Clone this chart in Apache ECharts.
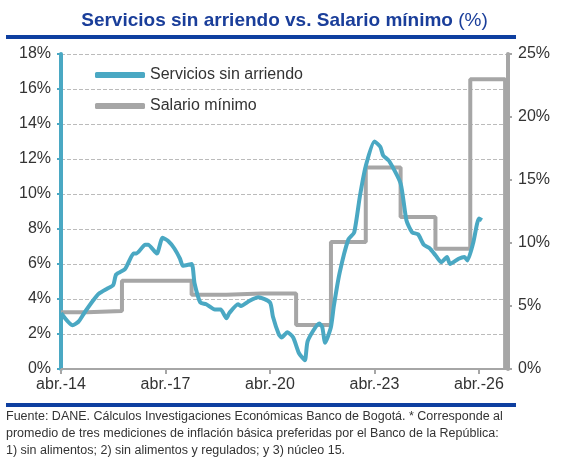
<!DOCTYPE html>
<html><head><meta charset="utf-8">
<script src="https://cdn.jsdelivr.net/npm/echarts@6/dist/echarts.min.js"></script>
<style>html,body{margin:0;padding:0;background:#fff}#c{width:569px;height:468px}</style>
</head><body><div id="c"></div>
<script>
// month index from abr.-14 (0) ; values in %
const servMonths = [0,4,6,8,11,13,16,18,19,22,23,25,26,29,30,33,35,37,39,41,42,45,46,48,50,53,55,57,58,61,62,65,68,72,73,75,76,78,80,82,84,85,89,90,91,93,94,96,99,101,103,105,108,110,111,113,117,119,121,123,125,127,129,131,133,134,137,139,140,142,144,145];
const servValues = [3.2,2.5,2.7,3.2,3.9,4.3,4.6,4.8,5.4,5.7,6.0,6.6,6.6,7.1,7.1,6.6,7.5,7.3,6.9,6.3,5.9,6.0,4.9,3.8,3.7,3.4,3.4,2.9,3.2,3.7,3.6,3.9,4.1,3.8,3.0,2.0,1.8,2.1,1.8,0.9,0.5,1.6,2.6,2.4,1.5,2.4,3.6,5.5,7.4,7.8,9.9,11.6,13.0,12.7,12.2,11.9,10.6,8.5,7.8,7.7,7.1,6.9,6.5,6.1,6.4,6.0,6.3,6.4,6.2,7.2,8.6,8.5];
const salMonths = [0,9,21,33,45,57,69,81,93,105,117,129,141,153,153];
const salValues = [4.5,4.6,7.0,7.0,5.9,6.0,6.0,3.5,10.07,16.0,12.07,9.54,23.0,23.0,0];
const xLabels = {0:'abr.-14',36:'abr.-17',72:'abr.-20',108:'abr.-23',144:'abr.-26'};
const leftTicks = [0,18,2];
const rightTicks = [0,25,5];

const teal = '#4aa8c3', gray = '#a6a6a6', blue = '#0e3fa0';
const zip = (a,b)=>a.map((m,i)=>[m,b[i]]);
const chart = echarts.init(document.getElementById('c'));
chart.setOption({
  animation:false,
  title:{text:'{b|Servicios sin arriendo vs. Salario mínimo }{n|(%)}',left:'center',top:6,
    textStyle:{fontWeight:'normal',rich:{b:{fontFamily:'Liberation Sans',fontWeight:'bold',fontSize:19,color:'#1a3e9a'},
                     n:{fontFamily:'Liberation Sans',fontWeight:'normal',fontSize:19,color:'#1a3e9a'}}}},
  graphic:[
    {type:'rect',shape:{x:6,y:35,width:510,height:4},style:{fill:blue}},
    {type:'rect',shape:{x:6,y:403,width:510,height:4},style:{fill:blue}},
    {type:'text',left:6,top:408,style:{text:'Fuente: DANE. Cálculos Investigaciones Económicas Banco de Bogotá. * Corresponde al\npromedio de tres mediciones de inflación básica preferidas por el Banco de la República:\n1) sin alimentos; 2) sin alimentos y regulados; y 3) núcleo 15.',
      font:'12.5px "Liberation Sans Narrow", "Liberation Sans", sans-serif',lineHeight:17,fill:'#333'}}
  ],
  legend:{orient:'vertical',left:90,top:62,itemWidth:50,itemHeight:6,itemGap:15,
    icon:'roundRect',textStyle:{fontSize:16,color:'#333',fontFamily:'Liberation Sans'},
    data:['Servicios sin arriendo','Salario mínimo']},
  grid:{left:61,right:61,top:54,bottom:99},
  xAxis:{type:'value',min:0,max:154,interval:36,
    axisLine:{lineStyle:{color:gray,width:2}},
    axisTick:{show:true,length:5,lineStyle:{color:gray,width:2}},
    splitLine:{show:false},
    axisLabel:{showMaxLabel:false,formatter:v=>xLabels[v]||'',fontSize:16,color:'#333',margin:8,fontFamily:'Liberation Sans'}},
  yAxis:[
    {type:'value',min:leftTicks[0],max:leftTicks[1],interval:leftTicks[2],
     axisLine:{show:true,lineStyle:{color:teal,width:4}},
     axisTick:{show:true,length:4,lineStyle:{color:teal,width:2}},
     splitLine:{lineStyle:{color:'#bbb',type:'dashed',width:1}},
     axisLabel:{formatter:'{value}%',fontSize:16,color:'#333',margin:10,fontFamily:'Liberation Sans'}},
    {type:'value',min:rightTicks[0],max:rightTicks[1],interval:rightTicks[2],position:'right',
     axisLine:{show:true,lineStyle:{color:gray,width:4}},
     axisTick:{show:true,length:4,lineStyle:{color:gray,width:2}},
     splitLine:{show:false},
     axisLabel:{formatter:'{value}%',fontSize:16,color:'#333',margin:10,fontFamily:'Liberation Sans'}}
  ],
  series:[
    {name:'Servicios sin arriendo',type:'line',yAxisIndex:0,data:zip(servMonths,servValues),
     showSymbol:false,smooth:0.2,lineStyle:{color:teal,width:4},itemStyle:{color:teal},z:3},
    {name:'Salario mínimo',type:'line',yAxisIndex:1,step:'end',data:zip(salMonths,salValues),
     showSymbol:false,lineStyle:{color:gray,width:4},itemStyle:{color:gray},z:2}
  ]
});
</script></body></html>
